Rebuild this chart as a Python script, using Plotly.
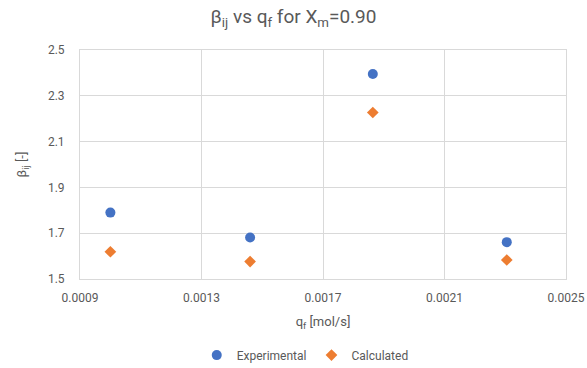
import plotly.graph_objects as go

# Flow rate (mol/s) and selectivity values
q_f = [0.001, 0.00146, 0.001864, 0.002305]
beta_experimental = [1.79, 1.681, 2.395, 1.661]
beta_calculated = [1.619, 1.576, 2.227, 1.583]

x_ticks = [0.0009, 0.0013, 0.0017, 0.0021, 0.0025]
y_ticks = [1.5, 1.7, 1.9, 2.1, 2.3, 2.5]

text_color = "#595959"
grid_color = "#d9d9d9"
font_family = "Roboto, Arial, sans-serif"

fig = go.Figure()
fig.add_trace(go.Scatter(
    x=q_f, y=beta_experimental, mode="markers", name="Experimental",
    marker=dict(symbol="circle", size=10, color="#4472C4"),
))
fig.add_trace(go.Scatter(
    x=q_f, y=beta_calculated, mode="markers", name="Calculated",
    marker=dict(symbol="diamond", size=9, color="#ED7D31"),
))

fig.update_layout(
    width=587, height=368,
    margin=dict(l=80, r=21, t=50, b=89, autoexpand=False),
    paper_bgcolor="white", plot_bgcolor="white",
    font=dict(family=font_family, color=text_color, size=12),
    title=dict(
        text="β<sub>ij</sub> vs q<sub>f</sub> for X<sub>m</sub>=0.90",
        x=0.5, xanchor="center", y=0.955, yanchor="middle",
        font=dict(size=19, color=text_color, family=font_family),
    ),
    legend=dict(
        orientation="h", xref="container", x=0.52, xanchor="center",
        yref="container", y=0.035, yanchor="middle",
        font=dict(size=12, color=text_color), itemwidth=30,
        tracegroupgap=0,
    ),
    showlegend=True,
)
fig.update_xaxes(
    range=[0.0009, 0.0025], tickvals=x_ticks,
    ticktext=[f"{v:.4f}" for v in x_ticks],
    showgrid=True, gridcolor=grid_color, gridwidth=1,
    showline=True, linecolor=grid_color, mirror=True,
    zeroline=False, ticks="", ticklen=0, ticklabelstandoff=8,
    tickfont=dict(size=12, color=text_color),
    title=dict(text="q<sub>f</sub> [mol/s]", font=dict(size=13, color=text_color), standoff=12),
)
fig.update_yaxes(
    range=[1.5, 2.5], tickvals=y_ticks,
    ticktext=[f"{v:.1f}" for v in y_ticks],
    showgrid=True, gridcolor=grid_color, gridwidth=1,
    showline=True, linecolor=grid_color, mirror=True,
    zeroline=False, ticks="", ticklabelstandoff=12,
    tickfont=dict(size=12, color=text_color),
    title=dict(text="β<sub>ij</sub> [-]", font=dict(size=13, color=text_color), standoff=18),
)

fig.write_html("out.html")
